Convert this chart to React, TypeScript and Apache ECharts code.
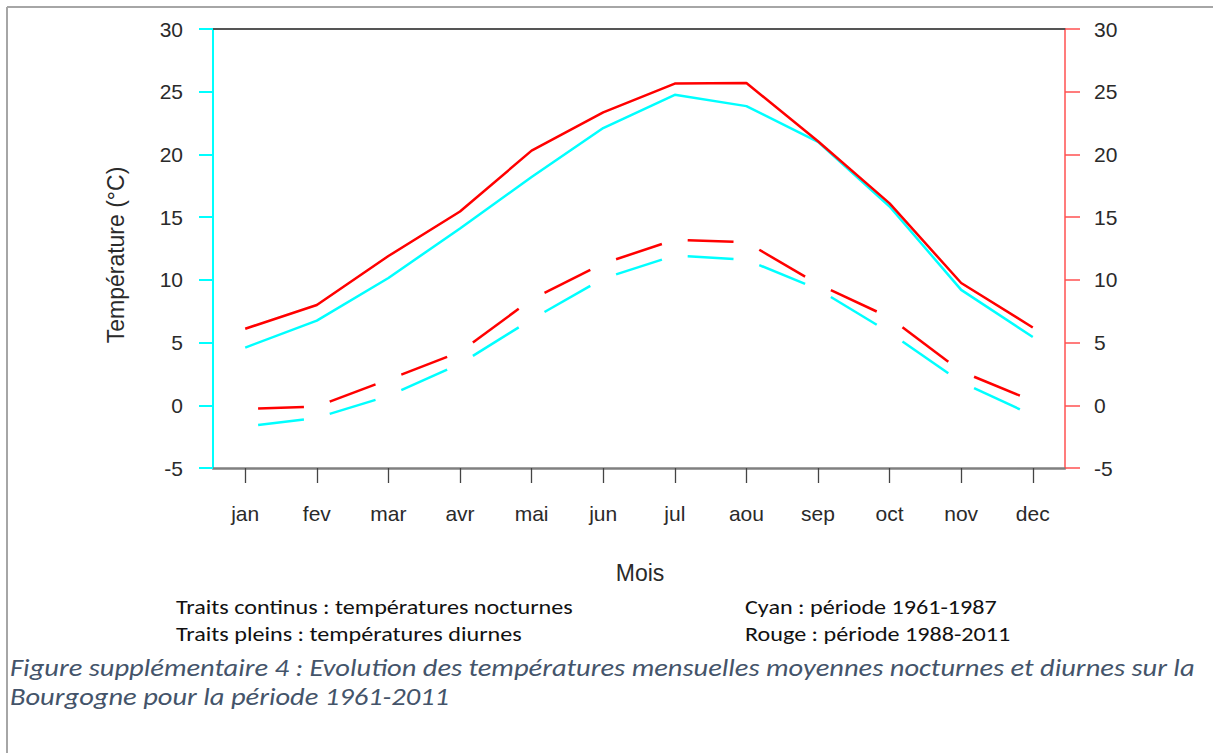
import React, { useEffect, useRef } from "react";
import * as echarts from "echarts";

const months = ["jan", "fev", "mar", "avr", "mai", "jun", "jul", "aou", "sep", "oct", "nov", "dec"];
const monthNum = [1, 2, 3, 4, 5, 6, 7, 8, 9, 10, 11, 12];

// Solid lines
const cyanSolid = [4.6, 6.75, 10.15, 14.1, 18.2, 22.1, 24.75, 23.85, 21.0, 15.85, 9.2, 5.45];
const redSolid = [6.1, 8.0, 11.9, 15.45, 20.3, 23.35, 25.65, 25.7, 21.05, 16.1, 9.75, 6.2];
// Dashed lines
const cyanDashed = [-1.7, -1.0, 0.75, 3.3, 6.85, 10.1, 11.95, 11.6, 9.25, 5.8, 1.85, -0.8];
const redDashed = [-0.3, -0.1, 2.05, 4.25, 8.45, 11.3, 13.2, 13.0, 9.65, 7.0, 2.7, 0.35];

const legendLeft = ["Traits continus : températures nocturnes", "Traits pleins : températures diurnes"];
const legendRight = ["Cyan : période 1961-1987", "Rouge : période 1988-2011"];
const caption = [
  "Figure supplémentaire 4 : Evolution des températures mensuelles moyennes nocturnes et diurnes sur la",
  "Bourgogne pour la période 1961-2011",
];

const CYAN = "#00ffff";
const RED = "#ff0000";
const AXIS_FONT = "'Liberation Sans', Arial, sans-serif";
const DOC_FONT = "Carlito, 'Open Sans', 'Noto Sans', sans-serif";

function segData(vals: number[]) {
  return monthNum.slice(0, -1).map((m, i) => [m, monthNum[i + 1], vals[i], vals[i + 1]]);
}

function dashSeries(vals: number[], color: string) {
  const gap = 0.18;
  return {
    type: "custom",
    xAxisIndex: 0,
    yAxisIndex: 0,
    data: segData(vals),
    encode: { x: [0, 1], y: [2, 3] },
    renderItem: (params: any, api: any) => {
      const p0 = api.coord([api.value(0), api.value(2)]);
      const p1 = api.coord([api.value(1), api.value(3)]);
      const dx = p1[0] - p0[0];
      const dy = p1[1] - p0[1];
      return {
        type: "line",
        shape: {
          x1: p0[0] + dx * gap,
          y1: p0[1] + dy * gap,
          x2: p0[0] + dx * (1 - gap),
          y2: p0[1] + dy * (1 - gap),
        },
        style: { stroke: color, lineWidth: 2.5, lineCap: "butt" },
      };
    },
  };
}

function lineSeries(vals: number[], color: string) {
  return {
    type: "line",
    xAxisIndex: 0,
    yAxisIndex: 0,
    data: monthNum.map((m, i) => [m, vals[i]]),
    showSymbol: false,
    symbol: "none",
    lineStyle: { color, width: 2.5 },
    itemStyle: { color },
  };
}

export default function App() {
  const ref = useRef<HTMLDivElement>(null);
  useEffect(() => {
    if (!ref.current) return;
    const chart = echarts.init(ref.current, null, { renderer: "svg" });
    const axisLabel = { fontSize: 21, color: "#2a2a2a", fontFamily: AXIS_FONT };
    const docText = (t: string, x: number, y: number, extra: any = {}) => ({
      type: "text",
      x,
      y,
      scaleX: 1.15,
      style: {
        text: t,
        fontSize: 21,
        fontFamily: DOC_FONT,
        fill: "#111",
        verticalAlign: "middle",
        ...extra,
      },
    });
    const option: any = {
      animation: false,
      backgroundColor: "#ffffff",
      grid: { left: 213, right: 148, top: 29, bottom: 285, containLabel: false },
      xAxis: [
        {
          type: "value",
          position: "bottom",
          min: 0.55,
          max: 12.45,
          axisLine: { show: true, onZero: false, lineStyle: { color: "#808080", width: 2.5 } },
          axisTick: {
            show: true,
            customValues: monthNum,
            length: 15,
            inside: false,
            lineStyle: { color: "#444", width: 1.3 },
          },
          axisLabel: {
            ...axisLabel,
            customValues: monthNum,
            margin: 35,
            formatter: (v: number) => months[Math.round(v) - 1] ?? "",
          },
          splitLine: { show: false },
        },
        {
          type: "value",
          position: "top",
          min: 0.55,
          max: 12.45,
          axisLine: { show: true, onZero: false, lineStyle: { color: "#555", width: 2 } },
          axisTick: { show: false },
          axisLabel: { show: false },
          splitLine: { show: false },
        },
      ],
      yAxis: [
        {
          type: "value",
          position: "left",
          min: -5,
          max: 30,
          interval: 5,
          axisLine: { show: true, onZero: false, lineStyle: { color: CYAN, width: 2 } },
          axisTick: { show: true, length: 14, lineStyle: { color: CYAN, width: 2 } },
          axisLabel: { ...axisLabel, margin: 30 },
          splitLine: { show: false },
        },
        {
          type: "value",
          position: "right",
          min: -5,
          max: 30,
          interval: 5,
          axisLine: { show: true, onZero: false, lineStyle: { color: "#ff5050", width: 1.5 } },
          axisTick: { show: true, length: 15, lineStyle: { color: "#ff5050", width: 1.5 } },
          axisLabel: { ...axisLabel, margin: 29 },
          splitLine: { show: false },
        },
      ],
      series: [
        lineSeries(cyanSolid, CYAN),
        lineSeries(redSolid, RED),
        dashSeries(cyanDashed, CYAN),
        dashSeries(redDashed, RED),
      ],
      graphic: [
        { type: "line", shape: { x1: 7, y1: 7, x2: 1213, y2: 7 }, style: { stroke: "#a6a6a6", lineWidth: 2 } },
        { type: "line", shape: { x1: 7, y1: 7, x2: 7, y2: 753 }, style: { stroke: "#a6a6a6", lineWidth: 2 } },
        {
          type: "text",
          x: 116,
          y: 255,
          rotation: Math.PI / 2,
          style: {
            text: "Température (°C)",
            fontSize: 23,
            fontFamily: AXIS_FONT,
            fill: "#2a2a2a",
            align: "center",
            verticalAlign: "middle",
          },
        },
        {
          type: "text",
          x: 640,
          y: 573,
          style: {
            text: "Mois",
            fontSize: 23,
            fontFamily: AXIS_FONT,
            fill: "#2a2a2a",
            align: "center",
            verticalAlign: "middle",
          },
        },
        ...legendLeft.map((t, i) => docText(t, 176, 607 + i * 27)),
        ...legendRight.map((t, i) => docText(t, 745, 607 + i * 27)),
        ...caption.map((t, i) =>
          ({
            ...docText(t, 10, 667 + i * 29, { fontSize: 25, fontStyle: "italic", fill: "#44546a" }),
            scaleX: 1.14,
          })
        ),
      ],
    };
    chart.setOption(option);
    return () => chart.dispose();
  }, []);
  return (
    <div
      ref={ref}
      style={{ position: "fixed", left: 0, top: 0, width: 1213, height: 753, background: "#fff" }}
    />
  );
}
